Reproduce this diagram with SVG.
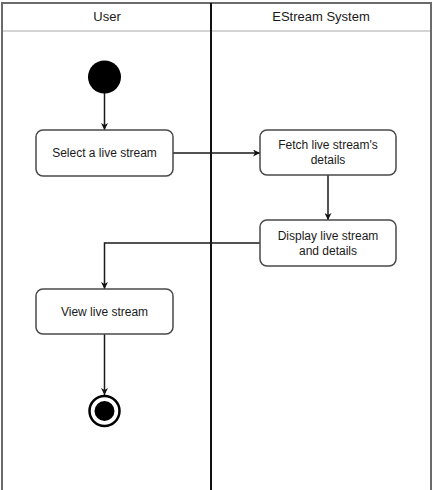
<svg xmlns="http://www.w3.org/2000/svg" width="433" height="490" viewBox="0 0 433 490">
  <style>
    .lane { fill: #ffffff; stroke: #6b6b6b; stroke-width: 2; }
    .hdr { stroke: #d4d4d4; stroke-width: 2; fill: none; }
    .div { stroke: #111111; stroke-width: 2; fill: none; }
    .act { fill: #ffffff; stroke: #4a4a4a; stroke-width: 1.5; }
    .txt { font-family: "Liberation Sans", Arial, sans-serif; font-size: 12px; fill: #1a1a1a; text-anchor: middle; }
    .htxt { font-family: "Liberation Sans", Arial, sans-serif; font-size: 13px; fill: #1a1a1a; text-anchor: middle; }
    .edge { stroke: #1a1a1a; stroke-width: 1.5; fill: none; marker-end: url(#arrow); }
  </style>
  <defs>
    <marker id="arrow" viewBox="0 0 10 10" refX="10" refY="5" markerWidth="7" markerHeight="7" markerUnits="userSpaceOnUse" orient="auto">
      <path d="M0,0 L10,5 L0,10 L3,5 Z" fill="#111111"/>
    </marker>
  </defs>

  <!-- swimlane pool -->
  <g id="pool">
    <path class="lane" d="M2,492 V3 H431 V492"/>
    <line class="hdr" x1="3" y1="31" x2="430" y2="31"/>
    <line class="div" x1="211" y1="3" x2="211" y2="490"/>
    <text class="htxt" x="107" y="21">User</text>
    <text class="htxt" x="321" y="21">EStream System</text>
  </g>

  <!-- connectors -->
  <g id="connectors">
    <path class="edge" d="M104.5,93 V130"/>
    <path class="edge" d="M173,153 H260"/>
    <path class="edge" d="M328,175 V220"/>
    <path class="edge" d="M260,243 H104.5 V289"/>
    <path class="edge" d="M104.5,334 V395"/>
  </g>

  <g id="start">
    <circle cx="104.5" cy="77" r="16.5" fill="#000000"/>
  </g>

  <g id="select">
    <rect class="act" x="36" y="130" width="137" height="46" rx="7"/>
    <text class="txt" x="104.5" y="157">Select a live stream</text>
  </g>

  <g id="fetch">
    <rect class="act" x="260" y="130" width="136" height="45" rx="7"/>
    <text class="txt" x="328" y="149">Fetch live stream's</text>
    <text class="txt" x="328" y="164">details</text>
  </g>

  <g id="display">
    <rect class="act" x="260" y="220" width="136" height="46" rx="7"/>
    <text class="txt" x="328" y="240">Display live stream</text>
    <text class="txt" x="328" y="255">and details</text>
  </g>

  <g id="view">
    <rect class="act" x="36" y="289" width="137" height="45" rx="7"/>
    <text class="txt" x="104.5" y="316">View live stream</text>
  </g>

  <g id="end">
    <circle cx="104.5" cy="411" r="15" fill="#ffffff" stroke="#000000" stroke-width="2.5"/>
    <circle cx="104.5" cy="411" r="10" fill="#000000"/>
  </g>
</svg>
